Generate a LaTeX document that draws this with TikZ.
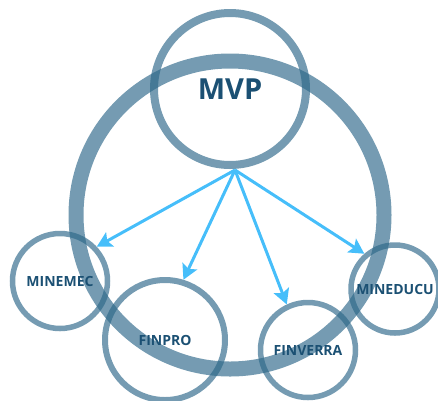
\documentclass[tikz,border=0pt]{standalone}
\usepackage{fontspec}
\setmainfont{Open Sans}
\usetikzlibrary{arrows.meta}
\definecolor{steel}{RGB}{43,102,136}
\definecolor{navy}{RGB}{27,80,115}
\definecolor{sky}{RGB}{70,190,250}

\begin{document}
\begin{tikzpicture}[x=1pt,y=-1pt,
  ring/.style={circle,draw=steel,draw opacity=0.65,inner sep=0pt,font=\bfseries\fontsize{14}{14}\selectfont,text=navy},
  link/.style={sky,line width=3pt,-{Stealth[length=15pt,width=16pt,inset=3pt]}}]
\useasboundingbox (0,0) rectangle (438,400);
\node [ring,line width=15pt,minimum size=308pt] (big) at (230,215) {};
\node [ring,line width=8pt,minimum size=152pt,font=\bfseries\fontsize{29}{29}\selectfont] (mvp) at (230,89) {MVP};
\node [ring,line width=5.5pt,minimum size=95pt] (minemec) at (60,281) {MINEMEC};
\node [ring,line width=6pt,minimum size=120pt] (finpro) at (165,340) {FINPRO};
\node [ring,line width=5.5pt,minimum size=95pt] (finverra) at (308,350) {FINVERRA};
\node [ring,line width=5.5pt,minimum size=88pt] (mineducu) at (395,289) {MINEDUCU};
\coordinate (hub) at (235,170);
\draw [link] (hub) -- (minemec.43);
\draw [link] (hub) -- (finpro.73);
\draw [link] (hub) -- (finverra.115);
\draw [link] (hub) -- (mineducu.131);

\end{tikzpicture}
\end{document}
